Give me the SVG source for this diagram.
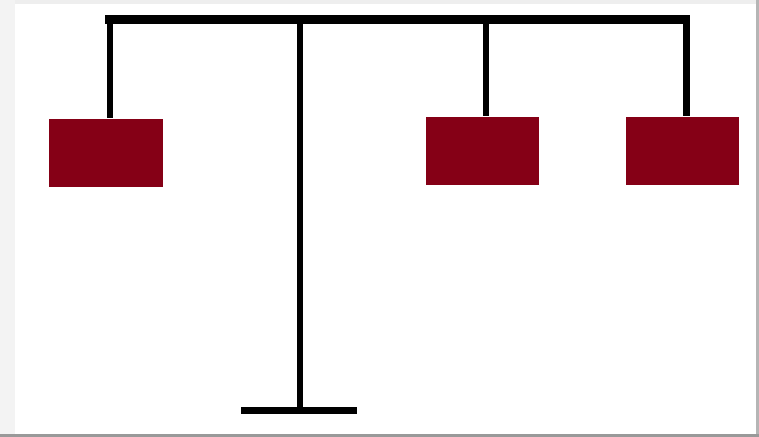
<svg xmlns="http://www.w3.org/2000/svg" width="759" height="437" viewBox="0 0 759 437">
<style>
.bar{stroke:#000;fill:none;stroke-linecap:butt}
.box{fill:#850016}
</style>
<rect x="0" y="0" width="759" height="437" fill="#fff"/>
<rect x="0" y="0" width="759" height="4" fill="#eeeeee"/>
<rect x="0" y="0" width="15" height="437" fill="#f3f3f3"/>
<rect x="756" y="0" width="3" height="437" fill="#b5b5b5"/>
<rect x="0" y="434" width="759" height="3" fill="#999"/>
<g id="connectors">
<line class="bar" x1="105" y1="19.5" x2="690" y2="19.5" stroke-width="9"/>
<line class="bar" x1="110" y1="19" x2="110" y2="118" stroke-width="6"/>
<line class="bar" x1="486" y1="19" x2="486" y2="116" stroke-width="6"/>
<line class="bar" x1="686.5" y1="19" x2="686.5" y2="116" stroke-width="7"/>
<line class="bar" x1="300" y1="19" x2="300" y2="410" stroke-width="6"/>
<line class="bar" x1="241" y1="410.5" x2="357" y2="410.5" stroke-width="7"/>
</g>
<g id="node-left"><rect class="box" x="49" y="119" width="114" height="68"/></g>
<g id="node-middle"><rect class="box" x="426" y="117" width="113" height="68"/></g>
<g id="node-right"><rect class="box" x="626" y="117" width="113" height="68"/></g>
</svg>
